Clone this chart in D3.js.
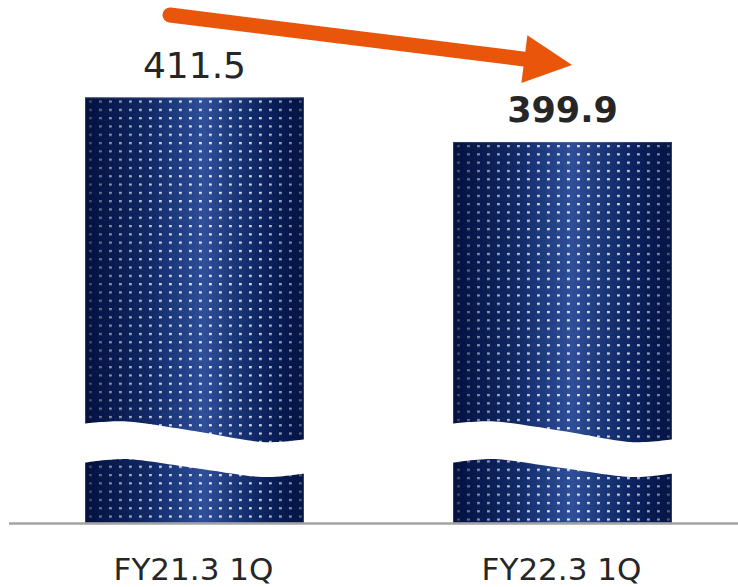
<!DOCTYPE html>
<html>
<head>
<meta charset="utf-8">
<script src="https://cdn.jsdelivr.net/npm/d3@7"></script>
<style>
  html, body { margin: 0; padding: 0; background: #ffffff; }
  svg { display: block; }
</style>
</head>
<body>
<script>
// Quarterly figures (axis is broken, so the baseline is not zero)
const categories = ["FY21.3 1Q", "FY22.3 1Q"];
const values = [411.5, 399.9];
const valueLabels = ["411.5", "399.9"];

const width = 738, height = 587;
const baselineY = 523;

const svg = d3.select("body").append("svg")
  .attr("width", width)
  .attr("height", height)
  .style("font-family", "'DejaVu Sans', Verdana, sans-serif");

const x = d3.scaleBand()
  .domain(categories)
  .range([11.4, 745.6])
  .paddingInner(0.405)
  .paddingOuter(0.2);

const y = d3.scaleLinear()
  .domain([300.6, 436.9])
  .range([baselineY, 0]);

const defs = svg.append("defs");

// cylinder-like horizontal shading
const grad = defs.append("linearGradient")
  .attr("id", "barShade")
  .attr("x1", "0").attr("x2", "1").attr("y1", "0").attr("y2", "0");
[
  [0.00, "#04123f"],
  [0.08, "#0a1d57"],
  [0.30, "#152f70"],
  [0.54, "#2f4f9a"],
  [0.78, "#122b6a"],
  [0.95, "#061a52"],
  [1.00, "#0b1d50"]
].forEach(([o, c]) => grad.append("stop").attr("offset", o).attr("stop-color", c));

// darkening toward the edges, applied over the dots
const edge = defs.append("linearGradient")
  .attr("id", "edgeShade")
  .attr("x1", "0").attr("x2", "1").attr("y1", "0").attr("y2", "0");
[
  [0.00, "#04123f", 0.8],
  [0.12, "#04123f", 0.4],
  [0.35, "#04123f", 0.1],
  [0.55, "#04123f", 0.0],
  [0.80, "#04123f", 0.12],
  [0.95, "#04123f", 0.45],
  [1.00, "#04123f", 0.75]
].forEach(([o, c, a]) => edge.append("stop").attr("offset", o)
  .attr("stop-color", c).attr("stop-opacity", a));

// dotted texture, one pattern per bar so the grid starts at its left edge
categories.forEach((cat, i) => {
  const p = defs.append("pattern")
    .attr("id", "dots" + i)
    .attr("patternUnits", "userSpaceOnUse")
    .attr("x", x(cat) + 4)
    .attr("y", y(values[i]) + 3)
    .attr("width", 10)
    .attr("height", 8.3);
  p.append("rect")
    .attr("x", 0).attr("y", 0)
    .attr("width", 2.8).attr("height", 2.2)
    .attr("fill", "#ffffff")
    .attr("fill-opacity", 0.9);
});

const bars = svg.append("g");

categories.forEach((cat, i) => {
  const bx = x(cat), bw = x.bandwidth();
  const top = y(values[i]), h = baselineY - top;
  const g = bars.append("g");
  g.append("rect").attr("x", bx).attr("y", top).attr("width", bw).attr("height", h)
    .attr("fill", "url(#barShade)");
  g.append("rect").attr("x", bx).attr("y", top).attr("width", bw).attr("height", h)
    .attr("fill", "url(#dots" + i + ")");
  g.append("rect").attr("x", bx).attr("y", top).attr("width", bw).attr("height", h)
    .attr("fill", "url(#edgeShade)");
  g.append("rect").attr("x", bx + 0.5).attr("y", top + 0.5).attr("width", bw - 1).attr("height", h - 1)
    .attr("fill", "none").attr("stroke", "#8a93ad").attr("stroke-opacity", 0.35);
});

// wavy break cut through each bar
const upperEdge = [[0, 424], [0.2, 421.5], [0.5, 431], [0.8, 442], [1, 439]];
const lowerEdge = [[0, 463], [0.2, 459], [0.5, 468], [0.8, 477], [1, 473]];
const curve = d3.line().curve(d3.curveCardinal.tension(0.1));

categories.forEach(cat => {
  const bx = x(cat) - 3, bw = x.bandwidth() + 6;
  const topPts = upperEdge.map(([f, yy]) => [bx + f * bw, yy]);
  const botPts = lowerEdge.map(([f, yy]) => [bx + f * bw, yy]).reverse();
  const d = curve(topPts) + "L" + curve(botPts).slice(1) + "Z";
  svg.append("path").attr("d", d).attr("fill", "#ffffff");
});

// baseline
svg.append("line")
  .attr("x1", 9).attr("x2", width)
  .attr("y1", baselineY + 0.5).attr("y2", baselineY + 0.5)
  .attr("stroke", "#a3a3a3").attr("stroke-width", 2.5);

// value labels
svg.append("g").selectAll("text")
  .data(categories)
  .join("text")
  .attr("x", (d) => x(d) + x.bandwidth() / 2)
  .attr("y", (d, i) => y(values[i]) - 19.5)
  .attr("text-anchor", "middle")
  .attr("fill", "#262626")
  .attr("font-size", (d, i) => i === categories.length - 1 ? 35 : 36)
  .attr("font-weight", (d, i) => i === categories.length - 1 ? "bold" : "normal")
  .text((d, i) => valueLabels[i]);

// category labels
svg.append("g").selectAll("text")
  .data(categories)
  .join("text")
  .attr("x", d => x(d) + x.bandwidth() / 2 - 1)
  .attr("y", 580)
  .attr("text-anchor", "middle")
  .attr("fill", "#262626")
  .attr("font-size", 31)
  .text(d => d);

// trend arrow
const arrowColor = "#e9550b";
const a0 = [170, 15], tip = [572, 65];
const ang = Math.atan2(tip[1] - a0[1], tip[0] - a0[0]);
const headLen = 48, headHalf = 24;
const baseMid = [tip[0] - headLen * Math.cos(ang), tip[1] - headLen * Math.sin(ang)];
const nx = -Math.sin(ang), ny = Math.cos(ang);

svg.append("line")
  .attr("x1", a0[0]).attr("y1", a0[1])
  .attr("x2", baseMid[0] + 4 * Math.cos(ang)).attr("y2", baseMid[1] + 4 * Math.sin(ang))
  .attr("stroke", arrowColor).attr("stroke-width", 15)
  .attr("stroke-linecap", "round");

svg.append("path")
  .attr("d", d3.line()([
    tip,
    [baseMid[0] + nx * headHalf, baseMid[1] + ny * headHalf],
    [baseMid[0] - nx * headHalf, baseMid[1] - ny * headHalf]
  ]) + "Z")
  .attr("fill", arrowColor);
</script>
</body>
</html>
